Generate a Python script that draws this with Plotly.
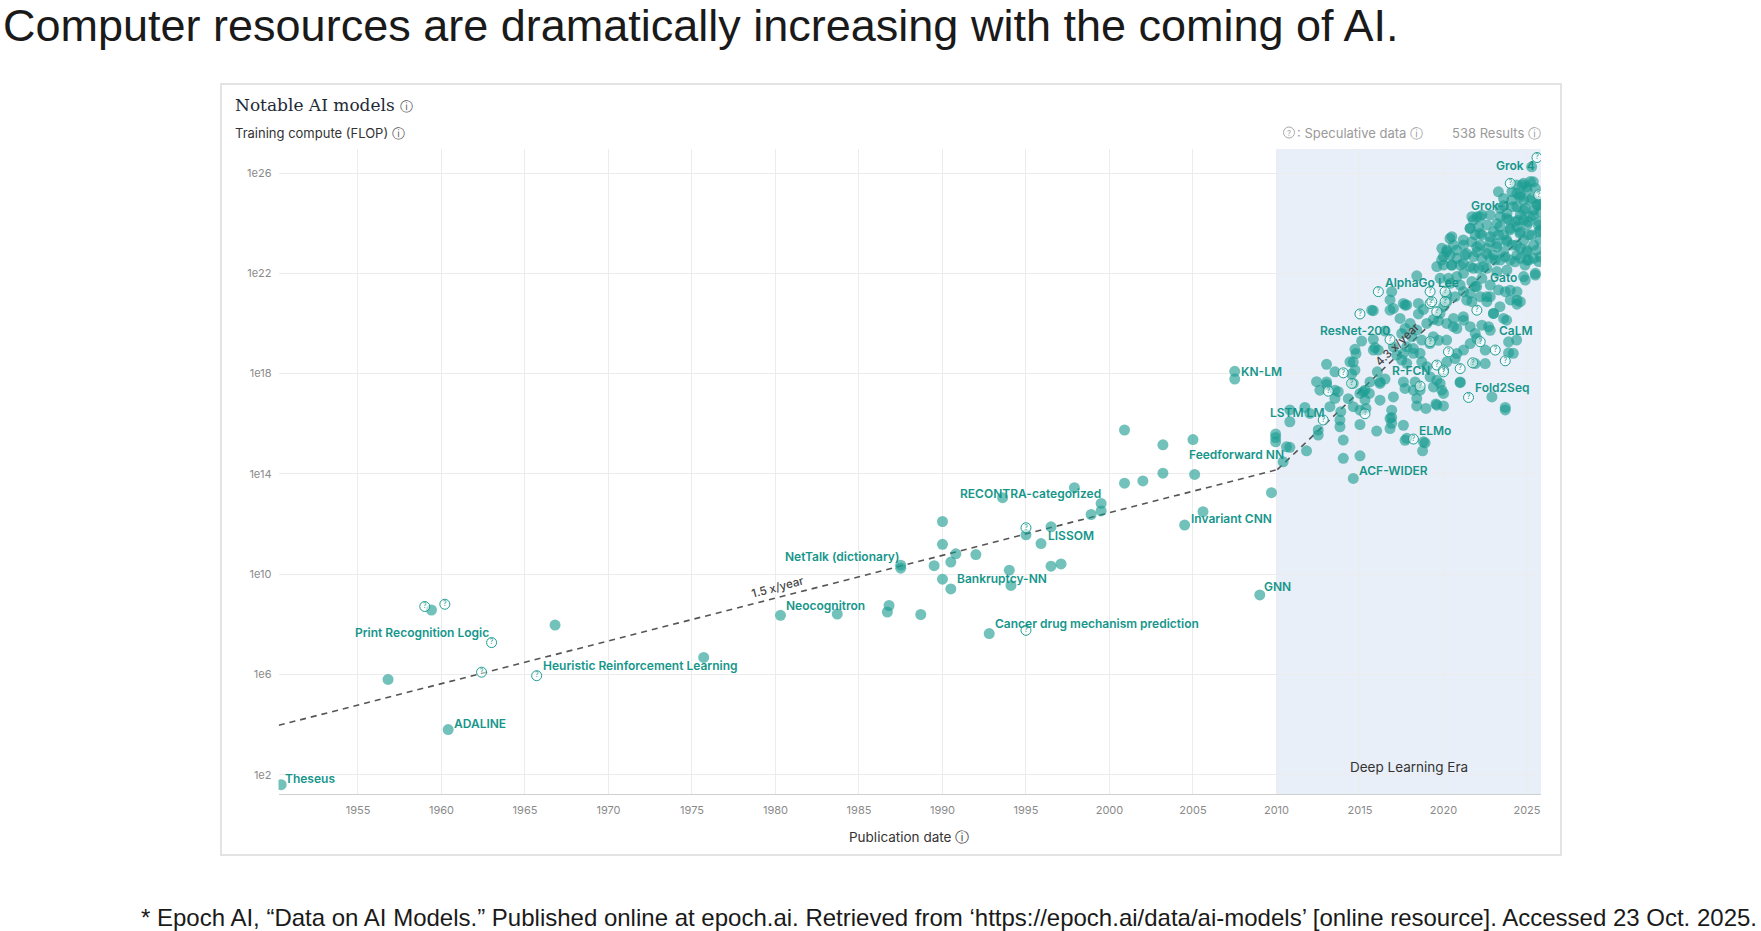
import plotly.graph_objects as go
import numpy as np

# ---------------- data (publication year, log10 training FLOP) ----------------
early_year = [1950.4, 1956.8, 1959.4, 1960.4, 1966.8, 1975.7, 1980.3, 1983.7, 1986.7, 1986.8,
              1987.5, 1987.5, 1988.7, 1989.5, 1990.0, 1990.0, 1990.0, 1990.5, 1990.5, 1990.8,
              1992.0, 1992.8, 1993.6, 1994.0, 1994.1, 1995.0, 1995.9, 1996.5, 1996.5, 1997.1,
              1997.9, 1998.9, 1999.5, 1999.5, 2000.9, 2000.9, 2002.0, 2003.2, 2003.2, 2004.5,
              2005.0, 2005.1, 2005.6, 2007.5, 2007.5, 2009.0, 2009.7, 2009.95, 2009.95, 2009.95]
early_logflop = [1.6, 5.8, 8.57, 3.8, 7.97, 6.68, 8.36, 8.41, 8.49, 8.75,
                 10.36, 10.24, 8.39, 10.34, 12.1, 11.19, 9.8, 10.48, 9.41, 10.81,
                 10.78, 7.63, 13.05, 10.16, 9.55, 11.57, 11.22, 11.89, 10.32, 10.41,
                 13.45, 12.38, 12.82, 12.52, 13.63, 15.75, 13.72, 14.03, 15.16, 11.96,
                 15.37, 13.98, 12.49, 18.09, 17.78, 9.17, 13.25, 15.59, 15.45, 15.28]

dl_a_year = [2010.4, 2010.6, 2010.8, 2010.8, 2010.8, 2011.7, 2011.8, 2012.0, 2012.4, 2012.5,
             2012.5, 2012.6, 2013.0, 2013.0, 2013.0, 2013.2, 2013.5, 2013.5, 2013.5, 2013.7,
             2013.8, 2013.8, 2013.85]
dl_a_logflop = [14.48, 15.08, 15.06, 16.08, 16.55, 16.65, 14.92, 16.41, 17.68, 15.75,
                15.55, 17.34, 17.57, 18.37, 17.67, 16.68, 17.01, 17.34, 18.07, 17.28,
                16.15, 15.88, 16.48]

dl_b_year = [2014.0, 2014.0, 2014.3, 2014.4, 2014.5, 2014.6, 2014.6, 2014.6, 2014.6, 2014.7,
             2014.7, 2014.76, 2015.0, 2015.0, 2015.0, 2015.0, 2015.1, 2015.2, 2015.3, 2015.3,
             2015.36, 2015.56, 2015.6, 2015.7, 2015.8, 2015.8, 2015.8, 2015.9, 2016.0, 2016.04,
             2016.1, 2016.2, 2016.2, 2016.2, 2016.5, 2016.5, 2016.8, 2016.8, 2016.8, 2016.8,
             2016.9, 2016.9, 2016.9, 2016.9]
dl_b_logflop = [15.35, 14.62, 17.0, 18.47, 17.98, 13.82, 16.68, 17.61, 18.46, 18.14,
                18.97, 18.80, 14.72, 15.97, 16.54, 17.21, 19.3, 17.28, 16.95, 17.34,
                16.61, 17.21, 17.67, 20.53, 18.94, 19.37, 20.51, 19.04, 15.71, 18.07,
                18.94, 16.94, 17.61, 17.67, 17.78, 19.7, 15.81, 16.21, 20.53, 20.94,
                16.25, 16.02, 16.54, 21.27]

dl_c_year = [2017.0, 2017.0, 2017.0, 2017.2, 2017.4, 2017.5, 2017.6, 2017.6, 2017.6, 2017.7,
             2017.7, 2017.7, 2017.7, 2017.8, 2017.8, 2017.8, 2017.8, 2018.0, 2018.1, 2018.2,
             2018.2, 2018.3, 2018.4, 2018.4, 2018.4, 2018.4, 2018.5, 2018.5, 2018.6, 2018.7,
             2018.7, 2018.75, 2018.8, 2018.8, 2018.9, 2018.95, 2019.0, 2019.0, 2019.2, 2019.4,
             2019.4, 2019.55, 2019.6, 2019.6, 2019.6, 2019.7, 2019.7, 2019.8, 2019.8, 2019.9,
             2019.9, 2020.0, 2020.0, 2020.0, 2020.0, 2020.0]
dl_c_logflop = [17.07, 19.07, 20.60, 18.74, 20.2, 19.60, 15.94, 17.67, 20.8, 15.34,
                17.41, 19.80, 20.73, 15.42, 18.41, 19.07, 20.74, 20.0, 19.47, 18.81,
                17.34, 17.67, 16.71, 17.01, 19.74, 21.9, 20.38, 20.80, 17.34, 18.47,
                19.34, 14.92, 15.28, 20.56, 15.24, 16.61, 18.27, 20.0, 17.87, 17.47,
                20.16, 16.79, 16.74, 17.74, 22.27, 19.33, 20.11, 21.80, 17.61, 17.34,
                23.0, 16.71, 17.21, 20.67, 22.33, 22.67]

dl_d_year = [2020.2, 2020.2, 2020.2, 2020.2, 2020.2, 2020.3, 2020.4, 2020.4, 2020.5, 2020.5,
             2020.6, 2020.6, 2020.7, 2020.7, 2020.8, 2020.8, 2020.8, 2020.8, 2021.0, 2021.0,
             2021.0, 2021.0, 2021.2, 2021.2, 2021.2, 2021.2, 2021.2, 2021.3, 2021.6, 2021.6,
             2021.6, 2021.6, 2021.6, 2021.7, 2021.7, 2021.7, 2021.7, 2021.8, 2021.9, 2021.9,
             2021.9, 2021.9, 2022.0, 2022.0, 2022.0, 2022.1, 2022.1, 2022.2, 2022.2, 2022.3,
             2022.3, 2022.3, 2022.3, 2022.3, 2022.5, 2022.5, 2022.6, 2022.6, 2022.6, 2022.6,
             2022.7, 2022.8, 2022.8, 2022.8, 2022.8, 2022.8, 2022.8, 2022.9]
dl_d_logflop = [18.47, 20.0, 20.87, 21.14, 22.86, 21.80, 21.60, 22.73, 22.33, 23.46,
                20.2, 23.13, 18.60, 21.07, 18.80, 19.80, 21.87, 22.60, 17.67, 21.53,
                22.33, 17.64, 18.94, 20.13, 21.27, 22.0, 23.13, 22.73, 19.2, 19.87,
                21.20, 22.27, 23.80, 20.87, 21.67, 23.26, 24.26, 22.67, 18.40, 19.60,
                21.47, 23.53, 19.40, 22.86, 24.26, 22.20, 23.86, 23.13, 21.07, 19.93,
                21.80, 22.60, 23.53, 24.33, 18.94, 18.40, 20.87, 22.20, 23.0, 23.93,
                19.87, 19.73, 21.53, 21.07, 22.60, 23.26, 24.33, 17.07]

dl_e_year = [2023.0, 2023.0, 2023.0, 2023.2, 2023.2, 2023.2, 2023.3, 2023.3, 2023.4, 2023.4,
             2023.4, 2023.6, 2023.6, 2023.6, 2023.6, 2023.6, 2023.7, 2023.7, 2023.7, 2023.8,
             2023.8, 2023.8, 2023.9, 2023.9, 2023.9, 2024.0, 2024.0, 2024.0, 2024.0, 2024.1,
             2024.1, 2024.1, 2024.3, 2024.4, 2024.4, 2024.4, 2024.4, 2024.4, 2024.4, 2024.4,
             2024.6, 2024.6, 2024.6, 2024.6, 2024.6, 2024.6, 2024.7, 2024.8, 2024.8, 2024.8,
             2024.8, 2024.8, 2024.9, 2024.9, 2025.0, 2025.0, 2025.0, 2025.0, 2025.1, 2025.1,
             2025.28, 2025.2, 2025.2, 2025.3, 2025.4, 2025.4, 2025.4, 2025.5, 2025.5, 2025.5,
             2025.6, 2025.7, 2025.7, 2025.7, 2025.8, 2025.8, 2025.8, 2025.8]
dl_e_logflop = [20.40, 22.73, 23.66, 22.07, 23.06, 23.99, 21.34, 23.53, 22.53, 24.26,
                24.59, 20.2, 22.86, 23.53, 24.99, 24.7, 16.65, 16.55, 21.27, 22.13,
                23.26, 24.39, 19.27, 18.83, 24.13, 20.94, 21.33, 22.53, 23.80, 24.93,
                25.26, 23.13, 24.06, 20.77, 20.93, 21.27, 22.73, 23.86, 24.66, 25.19,
                20.87, 22.60, 23.0, 23.66, 24.33, 25.13, 25.52, 21.87, 23.33, 24.13,
                24.93, 25.59, 21.73, 24.59, 22.53, 22.86, 23.93, 25.32, 22.53, 23.53,
                26.25, 24.26, 25.66, 24.99, 22.60, 23.13, 24.53, 21.93, 22.0, 25.39,
                24.72, 22.47, 23.66, 24.06, 24.86, 24.46, 22.66, 23.73]

# more models read in the crowded 2017-2025 cloud
dl_f_year = [2023.29, 2024.38, 2024.98, 2025.38, 2024.58, 2025.18, 2025.68, 2024.18, 2024.78,
             2025.38, 2024.48, 2025.08, 2025.68, 2023.78, 2023.38, 2023.98, 2024.58, 2025.28,
             2025.78, 2022.19, 2021.79, 2021.59, 2022.19, 2022.79, 2023.19, 2023.78, 2024.38,
             2024.98, 2025.58, 2021.19, 2020.79, 2021.39, 2021.99, 2022.59, 2023.09, 2023.69,
             2024.28, 2024.88, 2020.19, 2019.89, 2020.49, 2021.19, 2021.79, 2022.39, 2020.39,
             2017.6, 2017.5, 2018.2, 2018.6, 2019.19, 2019.39, 2020.19, 2020.59, 2021.19,
             2019.79, 2021.39, 2021.99, 2022.59, 2022.99, 2023.38, 2023.78, 2024.38, 2024.18]
dl_f_logflop = [25.25, 25.52, 25.45, 25.65, 25.05, 24.92, 24.72, 24.66, 24.52,
                24.32, 24.12, 24.06, 23.93, 24.19, 23.86, 23.73, 23.59, 23.53,
                23.33, 24.26, 24.12, 23.79, 23.59, 23.46, 23.19, 23.33, 23.13,
                22.93, 22.93, 23.33, 22.93, 22.79, 23.06, 22.79, 22.53, 22.66,
                22.46, 22.33, 22.93, 22.53, 22.33, 22.4, 22.2, 22.26, 23.39,
                18.81, 18.54, 19.0, 18.81, 19.2, 19.47, 19.34, 19.87, 20.27,
                20.4, 20.93, 21.47, 21.07, 20.4, 20.67, 20.13, 19.34, 18.81]

# speculative (estimated) data points
spec_year = [1959.0, 1960.2, 1963.0, 1962.4, 1965.7, 1995.0, 1995.0,
             2012.8, 2013.1, 2014.0, 2014.5, 2015.0, 2015.3, 2016.1, 2016.8, 2018.2, 2018.6,
             2019.2, 2019.2, 2019.2, 2019.3, 2019.6, 2019.6, 2020.0, 2020.0, 2020.1, 2020.1,
             2020.3, 2021.0, 2021.5, 2021.75, 2022.0, 2022.2, 2023.1, 2023.7, 2024.0, 2025.6, 2025.7]
spec_logflop = [8.71, 8.8, 7.27, 6.09, 5.95, 11.85, 7.76,
                16.15, 17.3, 18.03, 17.61, 20.38, 16.4, 21.27, 19.36, 15.39, 17.5,
                19.27, 20.80, 21.27, 20.87, 18.34, 20.47, 18.14, 18.07, 20.87, 21.27,
                18.87, 18.20, 17.05, 18.43, 20.53, 19.27, 18.94, 18.51, 25.59, 26.62, 25.13]

# labelled models (label text anchored at its left edge)
label_names = ["Theseus", "ADALINE", "Print Recognition Logic", "Heuristic Reinforcement Learning",
               "Neocognitron", "NetTalk (dictionary)", "RECONTRA-categorized", "LISSOM",
               "Bankruptcy-NN", "Cancer drug mechanism prediction", "KN-LM", "LSTM LM",
               "Feedforward NN", "Invariant CNN", "GNN", "ACF-WIDER", "ELMo", "Fold2Seq",
               "R-FCN", "ResNet-200", "CaLM", "AlphaGo Lee", "Gato", "Grok-1", "Grok 4"]
label_year = [1950.53, 1960.6, 1954.7, 1965.96, 1980.52, 1980.46, 1990.94, 1996.19,
              1990.74, 1993.03, 2007.77, 2009.47, 2004.62, 2004.78, 2009.13, 2014.84,
              2018.4, 2021.79, 2016.78, 2012.5, 2023.22, 2016.36, 2022.64, 2021.55, 2023.0]
label_logflop = [1.85, 4.03, 7.69, 6.36, 8.75, 10.70, 13.23, 11.53, 9.81, 8.04, 18.07,
                 16.46, 14.78, 12.22, 9.49, 14.14, 15.75, 17.46, 18.11, 19.71, 19.71,
                 21.62, 21.83, 24.71, 26.3]

# trend lines (growth rates)
trend1_year = [1950.26, 2010.05]
trend1_logflop = [3.97, 14.17]
trend2_year = [2010.05, 2024.8]
trend2_logflop = [14.17, 23.5]

x_ticks = list(range(1955, 2030, 5))
y_tick_exp = [2, 6, 10, 14, 18, 22, 26]

# ---------------- figure ----------------
W, H = 1761, 931
TEAL = "#1e9e92"
TEAL_LABEL = "#16968b"


def px_x(p):
    return p / W


def px_y(p):
    return 1 - p / H


def pw(v):
    return 10.0 ** float(v)


reg_year = early_year + dl_a_year + dl_b_year + dl_c_year + dl_d_year + dl_e_year + dl_f_year
reg_log = (early_logflop + dl_a_logflop + dl_b_logflop + dl_c_logflop + dl_d_logflop
           + dl_e_logflop + dl_f_logflop)

fig = go.Figure()

fig.add_trace(go.Scatter(
    x=trend1_year, y=[pw(v) for v in trend1_logflop], mode="lines",
    line=dict(color="#555555", width=1.6, dash="6px,5px"), hoverinfo="skip", showlegend=False))
fig.add_trace(go.Scatter(
    x=trend2_year, y=[pw(v) for v in trend2_logflop], mode="lines",
    line=dict(color="#555555", width=1.6, dash="6px,5px"), hoverinfo="skip", showlegend=False))

fig.add_trace(go.Scatter(
    x=reg_year, y=[pw(v) for v in reg_log], mode="markers",
    marker=dict(size=11, color="rgba(28,156,146,0.62)", line=dict(width=0)),
    hoverinfo="skip", showlegend=False))

fig.add_trace(go.Scatter(
    x=spec_year, y=[pw(v) for v in spec_logflop], mode="markers+text",
    text=["?"] * len(spec_year), textposition="middle center",
    textfont=dict(size=7, color=TEAL, family="Inter"),
    marker=dict(size=10, color="rgba(255,255,255,0.55)", line=dict(color=TEAL, width=1)),
    hoverinfo="skip", showlegend=False))

x_left, x_right = 278.5, 1541
y_top, y_bot = 149, 794

fig.update_layout(
    width=W, height=H, margin=dict(l=0, r=0, t=0, b=0),
    paper_bgcolor="white", plot_bgcolor="white",
    xaxis=dict(domain=[px_x(x_left), px_x(x_right)], range=[1950.24, 2025.84],
               tickvals=x_ticks, ticktext=[str(t) for t in x_ticks],
               showgrid=True, gridcolor="#ececec", gridwidth=1, zeroline=False,
               showline=True, linecolor="#cfcfcf", linewidth=1, ticks="",
               tickfont=dict(family="Inter", size=11, color="#8a8a8a"),
               ticklabelstandoff=6),
    yaxis=dict(type="log", domain=[px_y(y_bot), px_y(y_top)], range=[1.23, 26.96],
               tickvals=[pw(e) for e in y_tick_exp], ticktext=["1e%d" % e for e in y_tick_exp],
               showgrid=True, gridcolor="#ececec", gridwidth=1, zeroline=False,
               showline=False, ticks="",
               tickfont=dict(family="Inter", size=11, color="#8a8a8a"),
               ticklabelstandoff=6),
)

shapes = [
    dict(type="rect", xref="x", yref="y domain", x0=2010, x1=2025.84, y0=0, y1=1,
         fillcolor="#e9eff8", line=dict(width=0), layer="below"),
    dict(type="rect", xref="paper", yref="paper", x0=px_x(221), x1=px_x(1561),
         y0=px_y(855), y1=px_y(84), line=dict(color="#e3e3e3", width=2), fillcolor="rgba(0,0,0,0)"),
    dict(type="circle", xref="paper", yref="paper", x0=px_x(1283.5), x1=px_x(1294.5),
         y0=px_y(138), y1=px_y(127), line=dict(color="#a8a8a8", width=1)),
]
fig.update_layout(shapes=shapes)

ann = []
for name, yx, ly in zip(label_names, label_year, label_logflop):
    ann.append(dict(x=yx, y=ly, xref="x", yref="y", text=name, showarrow=False,
                    xanchor="left", yanchor="middle",
                    font=dict(family="Inter", size=12, color=TEAL_LABEL, weight=600)))

ann += [
    dict(x=1980.16, y=9.47, xref="x", yref="y", text="1.5 x/year", showarrow=False,
         textangle=-14.8, font=dict(family="Inter", size=11.5, color="#444444", weight=500)),
    dict(x=2017.24, y=19.2, xref="x", yref="y", text="4.3 x/year", showarrow=False,
         textangle=-44, font=dict(family="Inter", size=11.5, color="#444444", weight=500)),
    dict(x=2017.93, y=2.31, xref="x", yref="y", text="Deep Learning Era", showarrow=False,
         font=dict(family="Inter", size=13.5, color="#333333")),
    dict(x=px_x(1), y=px_y(26), xref="paper", yref="paper", xanchor="left", yanchor="middle",
         text="Computer resources are dramatically increasing with the coming of AI.",
         showarrow=False, font=dict(family="Liberation Sans", size=45, color="#1a1a1a")),
    dict(x=px_x(1759), y=px_y(917), xref="paper", yref="paper", xanchor="right", yanchor="middle",
         text="* Epoch AI, \u201cData on AI Models.\u201d Published online at epoch.ai. Retrieved from "
              "\u2018https://epoch.ai/data/ai-models\u2019 [online resource]. Accessed 23 Oct. 2025.",
         showarrow=False, font=dict(family="Liberation Sans", size=24, color="#1a1a1a")),
    dict(x=px_x(233), y=px_y(105), xref="paper", yref="paper", xanchor="left", yanchor="middle",
         text="Notable AI models <span style='font-family:DejaVu Sans;font-size:13px;color:#555'>\u24d8</span>",
         showarrow=False, font=dict(family="DejaVu Serif", size=17, color="#1d2a36")),
    dict(x=px_x(233), y=px_y(132.5), xref="paper", yref="paper", xanchor="left", yanchor="middle",
         text="Training compute (FLOP) <span style='font-family:DejaVu Sans;color:#555'>\u24d8</span>",
         showarrow=False, font=dict(family="Inter", size=13, color="#333333")),
    dict(x=px_x(1289), y=px_y(132.5), xref="paper", yref="paper", xanchor="center", yanchor="middle",
         text="?", showarrow=False, font=dict(family="Inter", size=8, color="#a8a8a8")),
    dict(x=px_x(1295), y=px_y(132.5), xref="paper", yref="paper", xanchor="left", yanchor="middle",
         text=": Speculative data <span style='font-family:DejaVu Sans'>\u24d8</span>",
         showarrow=False, font=dict(family="Inter", size=13, color="#9a9a9a")),
    dict(x=px_x(1543), y=px_y(132.5), xref="paper", yref="paper", xanchor="right", yanchor="middle",
         text="538 Results <span style='font-family:DejaVu Sans'>\u24d8</span>",
         showarrow=False, font=dict(family="Inter", size=13, color="#9a9a9a")),
    dict(x=px_x(909), y=px_y(837), xref="paper", yref="paper", xanchor="center", yanchor="middle",
         text="Publication date <span style='font-family:DejaVu Sans;font-size:14px'>\u24d8</span>",
         showarrow=False, font=dict(family="Inter", size=13.5, color="#333333")),
]
fig.update_layout(annotations=ann)

fig.write_html("out.html")
